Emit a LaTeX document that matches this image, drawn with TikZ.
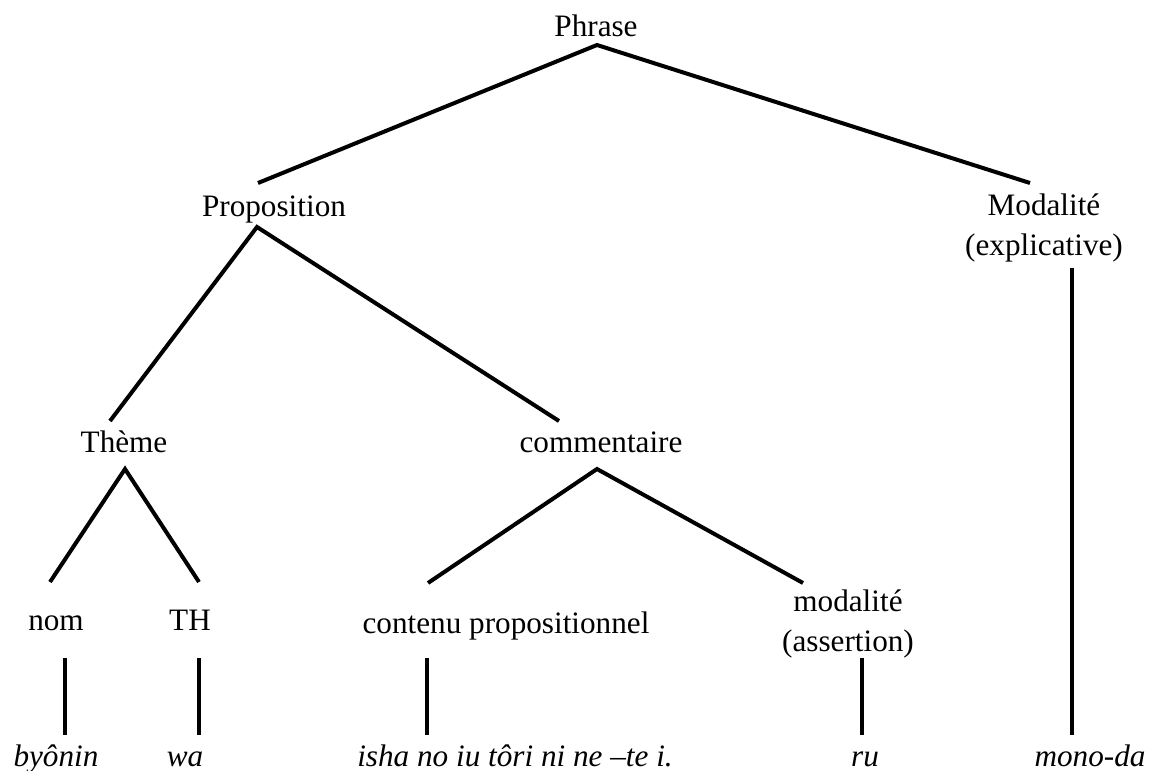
\documentclass[tikz,border=0pt]{standalone}
\usepackage{fontspec}
\setmainfont{Liberation Serif}
\begin{document}
\begin{tikzpicture}[x=1pt,y=-1pt,
  lab/.style={inner sep=0pt,anchor=base,font=\fontsize{31.2}{40}\selectfont,align=center},
  word/.style={lab,font=\fontsize{31.2}{40}\selectfont\itshape},
  branch/.style={line width=4pt,line cap=butt,line join=miter}]
\useasboundingbox (0,0) rectangle (1152,771);

% labels of the tree (two-line labels sit on their last baseline)
\node[lab] (phrase) at (596,36) {Phrase};
\node[lab] (prop) at (274,216) {Proposition};
\node[lab] (moda) at (1044,255) {Modalité\\(explicative)};
\node[lab] (theme) at (124,452) {Thème};
\node[lab] (comm) at (601,452) {commentaire};
\node[lab] (nom) at (56,630) {nom};
\node[lab] (th) at (190,630) {TH};
\node[lab] (cont) at (506,633) {contenu propositionnel};
\node[lab] (modb) at (848,651) {modalité\\(assertion)};

% words of the sentence
\node[word] (w1) at (56,766) {byônin};
\node[word] (w2) at (185,766) {wa};
\node[word] (w3) at (515,766) {isha no iu tôri ni ne –te i.};
\node[word] (w4) at (865,766) {ru};
\node[word] (w5) at (1090,766) {mono-da};

% branch ends
\coordinate (phrase-f) at (597,45);
\coordinate (prop-h) at (258,183);
\coordinate (moda-h) at (1030,183);
\coordinate (prop-f) at (257,227);
\coordinate (theme-h) at (110,421);
\coordinate (comm-h) at (559,421);
\coordinate (theme-f) at (125,469);
\coordinate (nom-h) at (50,582);
\coordinate (th-h) at (199,582);
\coordinate (comm-f) at (597,469);
\coordinate (cont-h) at (428,583);
\coordinate (modb-h) at (803,583);
\coordinate (nom-f) at (65,658);
\coordinate (th-f) at (199,658);
\coordinate (cont-f) at (427,658);
\coordinate (modb-f) at (862,658);
\coordinate (moda-f) at (1072,268);
\coordinate (w1-h) at (65,735);
\coordinate (w2-h) at (199,735);
\coordinate (w3-h) at (427,735);
\coordinate (w4-h) at (862,735);
\coordinate (w5-h) at (1072,735);

\draw[branch] (prop-h) -- (phrase-f) -- (moda-h);
\draw[branch] (theme-h) -- (prop-f) -- (comm-h);
\draw[branch] (nom-h) -- (theme-f) -- (th-h);
\draw[branch] (cont-h) -- (comm-f) -- (modb-h);
\draw[branch] (nom-f) -- (w1-h);
\draw[branch] (th-f) -- (w2-h);
\draw[branch] (cont-f) -- (w3-h);
\draw[branch] (modb-f) -- (w4-h);
\draw[branch] (moda-f) -- (w5-h);
\end{tikzpicture}
\end{document}
